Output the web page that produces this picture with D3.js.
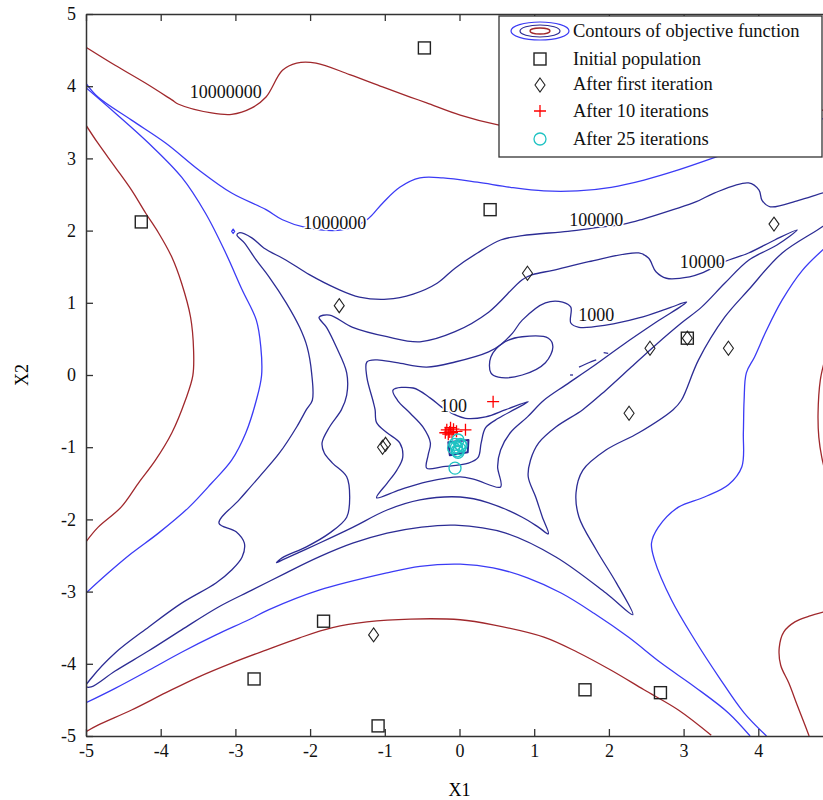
<!DOCTYPE html>
<html>
<head>
<meta charset="utf-8">
<script src="https://cdn.jsdelivr.net/npm/d3@7/dist/d3.min.js"></script>
<style>
  body { margin: 0; background: #fff; }
  svg { font-family: "Liberation Serif", "Times New Roman", serif; }
</style>
</head>
<body>
<div id="chart"></div>
<script>
// tick values on both axes
var tickValues = [-5, -4, -3, -2, -1, 0, 1, 2, 3, 4, 5];

// contour levels that carry a label
var levels = [100, 1000, 10000, 100000, 1000000, 10000000];
// where each level label sits [x1, x2]
var labelPos = [[-0.08, -0.42], [1.83, 0.84], [3.25, 1.57], [1.83, 2.15], [-1.67, 2.11], [-3.13, 3.92]];

// contour lines, [x1, x2]
var c10 = [[-0.15, -0.93], [0.12, -0.90], [0.11, -1.07], [-0.13, -1.11]];

var c100 = [[-0.89, -0.21], [-0.62, -0.18], [-0.39, -0.32], [-0.19, -0.48], [0.08, -0.60], [0.35, -0.58],
  [0.62, -0.48], [0.92, -0.37], [0.75, -0.47], [0.52, -0.60], [0.35, -0.73], [0.29, -0.94], [0.25, -1.14],
  [0.12, -1.22], [-0.22, -1.27], [-0.44, -1.29], [-0.42, -1.11], [-0.39, -0.94], [-0.49, -0.72],
  [-0.66, -0.53], [-0.83, -0.35]];

var c1000 = [[-1.24, 0.18], [-1.11, 0.21], [-0.84, 0.17], [-0.44, 0.11], [-0.06, 0.18], [0.39, 0.32],
  [0.55, 0.42], [0.71, 0.58], [0.84, 0.76], [1.15, 1.00], [1.38, 1.01], [1.49, 0.94], [1.49, 0.72],
  [1.60, 0.66], [1.96, 0.69], [2.40, 0.79], [2.81, 0.93], [3.04, 1.01], [2.63, 0.73], [2.19, 0.42],
  [1.76, 0.10], [1.42, -0.14], [1.13, -0.35], [0.91, -0.58], [0.68, -0.80], [0.55, -1.04], [0.51, -1.27],
  [0.55, -1.55], [0.21, -1.45], [0.01, -1.41], [-0.44, -1.48], [-0.80, -1.59], [-1.11, -1.70],
  [-0.97, -1.50], [-0.84, -1.32], [-0.76, -1.14], [-0.80, -0.94], [-0.97, -0.80], [-1.11, -0.66],
  [-1.13, -0.48], [-1.16, -0.35], [-1.24, -0.03]];

var c1000Oval = [[0.42, 0.25], [0.42, 0.03], [0.52, -0.03], [0.84, 0.00], [1.15, 0.17], [1.25, 0.39],
  [1.19, 0.51], [0.84, 0.53], [0.61, 0.46]];

var c1000Bits = [
  [[1.60, 0.11], [1.73, 0.17], [1.83, 0.21]],
  [[1.93, 0.31], [1.99, 0.30]],
  [[1.48, 0.00], [1.52, 0.00]]
];

var c10000 = [[-1.88, 0.80], [-1.74, 0.83], [-1.43, 0.66], [-0.97, 0.53], [-0.53, 0.46], [-0.06, 0.60],
  [0.39, 0.87], [0.84, 1.32], [0.98, 1.39], [1.25, 1.45], [1.73, 1.57], [2.40, 1.69], [2.53, 1.62],
  [2.63, 1.43], [2.77, 1.34], [3.08, 1.36], [3.24, 1.41], [3.55, 1.57], [3.87, 1.69], [4.22, 1.87],
  [4.52, 2.01], [4.25, 1.80], [3.87, 1.59], [3.55, 1.27], [3.24, 0.94], [2.97, 0.72], [2.63, 0.42],
  [2.30, 0.11], [1.96, -0.21], [1.65, -0.48], [1.29, -0.72], [1.06, -0.94], [0.95, -1.18], [0.92, -1.41],
  [1.02, -1.69], [1.11, -1.97], [1.19, -2.20], [1.06, -2.11], [0.84, -1.97], [0.39, -1.77], [0.01, -1.69],
  [-0.53, -1.73], [-0.97, -1.87], [-1.43, -2.11], [-1.88, -2.33], [-2.37, -2.56], [-2.45, -2.60],
  [-2.37, -2.53], [-2.05, -2.38], [-1.74, -2.19], [-1.51, -1.97], [-1.47, -1.69], [-1.51, -1.41],
  [-1.70, -1.22], [-1.81, -1.08], [-1.84, -0.94], [-1.74, -0.72], [-1.58, -0.48], [-1.51, -0.28],
  [-1.51, 0.03], [-1.65, 0.39], [-1.78, 0.66]];

var c100000 = [[5.0, 2.55], [4.89, 2.53], [4.54, 2.42], [4.16, 2.33], [4.05, 2.42], [4.01, 2.56], [3.87, 2.66],
  [3.41, 2.52], [3.17, 2.40], [2.86, 2.29], [2.46, 2.16], [2.20, 2.09], [1.83, 2.04], [1.45, 1.99],
  [0.84, 1.93], [0.55, 1.87], [0.24, 1.69], [-0.06, 1.48], [-0.30, 1.27], [-0.62, 1.12], [-0.97, 1.05],
  [-1.34, 1.08], [-1.65, 1.20], [-2.01, 1.39], [-2.32, 1.59], [-2.62, 1.76], [-2.78, 1.90], [-2.95, 1.97],
  [-2.98, 1.94], [-2.88, 1.83], [-2.72, 1.59], [-2.55, 1.36], [-2.32, 1.00], [-2.14, 0.66], [-2.04, 0.39],
  [-1.98, 0.03], [-1.97, -0.35], [-2.05, -0.48], [-2.18, -0.72], [-2.41, -1.08], [-2.68, -1.41],
  [-2.95, -1.73], [-3.22, -2.05], [-2.99, -2.17], [-2.88, -2.33], [-2.91, -2.52], [-3.05, -2.70],
  [-3.26, -2.88], [-3.72, -3.16], [-4.16, -3.49], [-4.61, -3.85], [-4.93, -4.20], [-5.0, -4.31],
  [-4.93, -4.32], [-4.61, -4.10], [-4.16, -3.82], [-3.72, -3.53], [-3.22, -3.21], [-2.78, -2.98],
  [-2.32, -2.74], [-1.88, -2.52], [-1.43, -2.33], [-0.97, -2.19], [-0.53, -2.11], [-0.06, -2.08],
  [0.62, -2.19], [1.29, -2.52], [1.96, -3.02], [2.32, -3.32], [2.10, -2.88], [1.83, -2.42], [1.60, -1.97],
  [1.56, -1.63], [1.65, -1.32], [1.96, -1.04], [2.40, -0.80], [2.86, -0.48], [2.97, -0.35], [3.20, 0.21],
  [3.55, 0.80], [3.87, 1.18], [4.32, 1.69], [4.89, 2.08], [5.0, 2.2]];

var c1e6Upper = [[-5.0, 4.04], [-4.84, 3.85], [-4.39, 3.53], [-3.93, 3.21], [-3.49, 2.84], [-3.05, 2.52],
  [-2.59, 2.29], [-2.37, 2.15], [-2.05, 2.04], [-1.57, 2.01], [-1.24, 2.15], [-1.03, 2.38], [-0.80, 2.60],
  [-0.53, 2.73], [-0.22, 2.73], [0.24, 2.67], [0.68, 2.60], [1.13, 2.55], [1.58, 2.55], [2.03, 2.60],
  [2.47, 2.70], [2.93, 2.84], [3.41, 3.01], [4.05, 3.25], [5.0, 3.6]];
var c1e6Left = [[-5.0, 3.98], [-4.61, 3.63], [-4.16, 3.21], [-3.72, 2.74], [-3.40, 2.24], [-3.13, 1.69],
  [-2.91, 1.18], [-2.72, 0.76], [-2.66, 0.39], [-2.65, -0.01], [-2.72, -0.35], [-2.86, -0.80], [-3.05, -1.18],
  [-3.32, -1.50], [-3.62, -1.83], [-4.03, -2.19], [-4.39, -2.47], [-4.70, -2.74], [-5.0, -3.02]];
var c1e6Lower = [[-5.0, -4.54], [-4.61, -4.34], [-4.16, -4.09], [-3.72, -3.84], [-3.26, -3.60], [-2.82, -3.39],
  [-2.55, -3.25], [-1.88, -2.98], [-0.97, -2.74], [-0.53, -2.65], [0.01, -2.62], [0.45, -2.67], [0.91, -2.81],
  [1.36, -3.02], [1.80, -3.30], [2.26, -3.63], [2.70, -3.99], [3.15, -4.32], [3.60, -4.68], [3.89, -5.0]];
var c1e6Right = [[4.11, -5.0], [3.81, -4.68], [3.47, -4.18], [3.15, -3.67], [2.84, -3.12], [2.61, -2.56],
  [2.57, -2.33], [2.66, -2.11], [2.93, -1.83], [3.28, -1.69], [3.60, -1.52], [3.78, -1.27], [3.80, -0.80],
  [3.81, -0.35], [3.84, 0.03], [3.95, 0.25], [4.11, 0.62], [4.32, 1.04], [4.59, 1.45], [4.89, 1.76], [5.0, 1.86]];
var c1e6Dot = [[-3.05, 1.99], [-3.03, 2.02], [-3.01, 1.99], [-3.03, 1.96]];

var c1e7Top = [[-5.0, 4.54], [-4.61, 4.29], [-4.20, 4.04], [-3.85, 3.81], [-3.76, 3.75], [-3.32, 3.63],
  [-3.05, 3.61], [-2.78, 3.70], [-2.59, 3.85], [-2.37, 4.22], [-2.18, 4.32], [-1.92, 4.32], [-1.47, 4.16],
  [-1.03, 3.99], [-0.66, 3.85], [-0.44, 3.77], [0.01, 3.60], [0.53, 3.46], [1.36, 3.32], [2.43, 3.25],
  [3.51, 3.39], [5.0, 3.7]];
var c1e7Left = [[-5.0, 3.46], [-4.84, 3.21], [-4.61, 2.88], [-4.39, 2.56], [-4.20, 2.24], [-4.03, 1.97],
  [-3.85, 1.63], [-3.72, 1.27], [-3.60, 0.80], [-3.56, 0.35], [-3.57, -0.01], [-3.67, -0.35], [-3.85, -0.80],
  [-4.07, -1.18], [-4.30, -1.50], [-4.53, -1.83], [-4.84, -2.11], [-5.0, -2.31]];
var c1e7Bottom = [[-5.0, -4.94], [-4.84, -4.85], [-4.39, -4.64], [-3.93, -4.40], [-3.49, -4.18], [-3.05, -3.99],
  [-2.59, -3.81], [-2.14, -3.64], [-1.70, -3.50], [-1.24, -3.42], [-0.66, -3.38], [0.01, -3.39], [0.45, -3.46],
  [1.13, -3.63], [1.58, -3.84], [2.03, -4.09], [2.47, -4.36], [2.93, -4.64], [3.37, -4.99]];
var c1e7RightUp = [[4.96, 0.45], [4.88, 0.17], [4.83, -0.07], [4.80, -0.53], [4.81, -0.86], [4.85, -1.14], [4.96, -1.6]];
var c1e7RightLow = [[5.0, -3.25], [4.88, -3.28], [4.68, -3.34], [4.49, -3.42], [4.34, -3.56], [4.28, -3.78],
  [4.30, -4.02], [4.41, -4.27], [4.52, -4.57], [4.61, -4.81], [4.68, -5.0]];

// population points
var initialPop = [[-0.47, 4.53], [-4.26, 2.12], [0.41, 2.29], [3.05, 0.51], [-1.82, -3.41], [-2.75, -4.21],
  [-1.09, -4.86], [1.68, -4.36], [2.69, -4.40]];
var firstIter = [[-1.61, 0.96], [0.91, 1.41], [4.21, 2.09], [2.55, 0.37], [3.60, 0.37], [2.27, -0.53],
  [-1.03, -1.00], [-0.99, -0.96], [-1.15, -3.60], [3.05, 0.51]];
var iter10 = [[0.45, -0.37], [-0.17, -0.76], [-0.13, -0.79], [-0.08, -0.75], [-0.19, -0.80], [-0.04, -0.78],
  [0.08, -0.76], [-0.12, -0.73], [-0.15, -0.82], [-0.10, -0.80]];
var iter25 = [[-0.04, -1.00], [0.00, -1.02], [0.02, -0.98], [-0.03, -1.05], [-0.06, -0.96], [0.01, -0.96],
  [-0.02, -1.07], [-0.08, -1.01], [-0.06, -1.29], [-0.02, -0.90]];

var legendLabels = ["Contours of objective function", "Initial population", "After first iteration",
  "After 10 iterations", "After 25 iterations"];

// ---------------------------------------------------------------
var svgWidth = 823;
var svgHeight = 800;
var margin = {top: 14, left: 86};
var width = 747;   // right edge falls outside the picture
var height = 722;

var red = "#a0282c", blue = "#3b3bf5", navy = "#2c2c94";
function levelColor(v) {
  if (v >= 10000000) return red;
  if (v >= 1000000) return blue;
  return navy;
}

var contours = [
  {level: 10, pts: c10, closed: true, w: 2, straight: true},
  {level: 100, pts: c100, closed: true},
  {level: 1000, pts: c1000, closed: true},
  {level: 1000, pts: c1000Oval, closed: true},
  {level: 10000, pts: c10000, closed: true},
  {level: 100000, pts: c100000, closed: false},
  {level: 1000000, pts: c1e6Upper, closed: false},
  {level: 1000000, pts: c1e6Left, closed: false},
  {level: 1000000, pts: c1e6Lower, closed: false},
  {level: 1000000, pts: c1e6Right, closed: false},
  {level: 1000000, pts: c1e6Dot, closed: true, straight: true},
  {level: 10000000, pts: c1e7Top, closed: false},
  {level: 10000000, pts: c1e7Left, closed: false},
  {level: 10000000, pts: c1e7Bottom, closed: false},
  {level: 10000000, pts: c1e7RightUp, closed: false},
  {level: 10000000, pts: c1e7RightLow, closed: false}
];
c1000Bits.forEach(function (b) { contours.push({level: 1000, pts: b, closed: false}); });

var svg = d3.select("#chart")
  .append("svg")
  .attr("width", svgWidth)
  .attr("height", svgHeight);

var chartGroup = svg.append("g")
  .attr("transform", `translate(${margin.left}, ${margin.top})`);

var x = d3.scaleLinear().domain([-5, 5]).range([0, width]);
var y = d3.scaleLinear().domain([-5, 5]).range([height, 0]);

chartGroup.append("clipPath").attr("id", "plotclip")
  .append("rect").attr("width", width).attr("height", height);

var plot = chartGroup.append("g").attr("clip-path", "url(#plotclip)");

var openLine = d3.line().x(d => x(d[0])).y(d => y(d[1])).curve(d3.curveCatmullRom.alpha(0.5));
var closedLine = d3.line().x(d => x(d[0])).y(d => y(d[1])).curve(d3.curveCatmullRomClosed.alpha(0.5));
var polyLine = d3.line().x(d => x(d[0])).y(d => y(d[1])).curve(d3.curveLinearClosed);

plot.selectAll("path.contour")
  .data(contours)
  .enter()
  .append("path")
  .attr("class", "contour")
  .attr("d", d => d.straight ? polyLine(d.pts) : (d.closed ? closedLine(d.pts) : openLine(d.pts)))
  .attr("fill", "none")
  .attr("stroke", d => levelColor(d.level))
  .attr("stroke-width", d => d.w || 1.3)
  .attr("stroke-linejoin", "round");

// contour labels, white halo breaks the line like clabel does
plot.selectAll("text.clabel")
  .data(levels)
  .enter()
  .append("text")
  .attr("class", "clabel")
  .attr("x", (d, i) => x(labelPos[i][0]))
  .attr("y", (d, i) => y(labelPos[i][1]))
  .attr("dy", "0.35em")
  .attr("text-anchor", "middle")
  .attr("font-size", 18)
  .attr("fill", "#111")
  .attr("stroke", "#fff")
  .attr("stroke-width", 3)
  .attr("paint-order", "stroke")
  .text(d => d);

// markers
plot.selectAll("rect.init")
  .data(initialPop)
  .enter()
  .append("rect")
  .attr("class", "init")
  .attr("x", d => x(d[0]) - 6)
  .attr("y", d => y(d[1]) - 6)
  .attr("width", 12)
  .attr("height", 12)
  .attr("fill", "none")
  .attr("stroke", "#222")
  .attr("stroke-width", 1.4);

var diamond = "M0,-7L5,0L0,7L-5,0Z";
plot.selectAll("path.first")
  .data(firstIter)
  .enter()
  .append("path")
  .attr("class", "first")
  .attr("transform", d => `translate(${x(d[0])},${y(d[1])})`)
  .attr("d", diamond)
  .attr("fill", "none")
  .attr("stroke", "#222")
  .attr("stroke-width", 1.1);

var plus = "M-6,0H6M0,-6V6";
plot.selectAll("path.it10")
  .data(iter10)
  .enter()
  .append("path")
  .attr("class", "it10")
  .attr("transform", d => `translate(${x(d[0])},${y(d[1])})`)
  .attr("d", plus)
  .attr("stroke", "#ff0000")
  .attr("stroke-width", 1.3);

plot.selectAll("circle.it25")
  .data(iter25)
  .enter()
  .append("circle")
  .attr("class", "it25")
  .attr("cx", d => x(d[0]))
  .attr("cy", d => y(d[1]))
  .attr("r", 6)
  .attr("fill", "none")
  .attr("stroke", "#1fc3c3")
  .attr("stroke-width", 1.3);

// axes, ticks point inwards, plain hyphen for negatives
function styleAxis(g) {
  g.select(".domain").attr("stroke", "#333").attr("stroke-width", 1.5);
  g.selectAll(".tick line").attr("stroke", "#333").attr("stroke-width", 1.3);
  g.selectAll("text").attr("font-size", 18).attr("fill", "#111")
    .attr("font-family", "Liberation Serif, serif");
}
var plainFormat = d => String(d);
var xTickValues = tickValues.filter(d => d < 5);   // the 5 tick sits past the picture edge

chartGroup.append("g")
  .attr("transform", `translate(0, ${height})`)
  .call(d3.axisBottom(x).tickValues(xTickValues).tickFormat(plainFormat).tickSize(-7).tickSizeOuter(0).tickPadding(8))
  .call(styleAxis);

chartGroup.append("g")
  .call(d3.axisTop(x).tickValues(xTickValues).tickSize(-7).tickSizeOuter(0).tickFormat(""))
  .call(styleAxis);

chartGroup.append("g")
  .call(d3.axisLeft(y).tickValues(tickValues).tickFormat(plainFormat).tickSize(-7).tickSizeOuter(0).tickPadding(10))
  .call(styleAxis);

chartGroup.append("text")
  .attr("x", x(0))
  .attr("y", height + 60)
  .attr("text-anchor", "middle")
  .attr("font-size", 18)
  .text("X1");

chartGroup.append("text")
  .attr("transform", "rotate(-90)")
  .attr("x", -y(0))
  .attr("y", -58)
  .attr("text-anchor", "middle")
  .attr("font-size", 18)
  .text("X2");

// legend
var legend = svg.append("g").attr("transform", "translate(499, 16)");
legend.append("rect")
  .attr("width", 323)
  .attr("height", 141)
  .attr("fill", "#fff")
  .attr("stroke", "#333")
  .attr("stroke-width", 1.3);

var rowY = [15, 43, 68, 95, 123];
legend.selectAll("text.leg")
  .data(legendLabels)
  .enter()
  .append("text")
  .attr("class", "leg")
  .attr("x", 74)
  .attr("y", (d, i) => rowY[i])
  .attr("dy", "0.35em")
  .attr("font-size", 18.5)
  .attr("fill", "#111")
  .text(d => d);

var ic = legend.append("g").attr("transform", `translate(41, ${rowY[0]})`);
ic.append("ellipse").attr("rx", 29).attr("ry", 9).attr("fill", "none").attr("stroke", blue).attr("stroke-width", 1.2);
ic.append("ellipse").attr("rx", 20).attr("ry", 6).attr("fill", "none").attr("stroke", navy).attr("stroke-width", 1.2);
ic.append("ellipse").attr("rx", 10).attr("ry", 3).attr("fill", "none").attr("stroke", red).attr("stroke-width", 1.4);

legend.append("rect").attr("x", 35).attr("y", rowY[1] - 6).attr("width", 12).attr("height", 12)
  .attr("fill", "none").attr("stroke", "#222").attr("stroke-width", 1.4);
legend.append("path").attr("transform", `translate(41, ${rowY[2] + 1})`).attr("d", diamond)
  .attr("fill", "none").attr("stroke", "#222").attr("stroke-width", 1.1);
legend.append("path").attr("transform", `translate(41, ${rowY[3]})`).attr("d", plus)
  .attr("stroke", "#ff0000").attr("stroke-width", 1.3);
legend.append("circle").attr("cx", 41).attr("cy", rowY[4]).attr("r", 6)
  .attr("fill", "none").attr("stroke", "#1fc3c3").attr("stroke-width", 1.3);
</script>
</body>
</html>
